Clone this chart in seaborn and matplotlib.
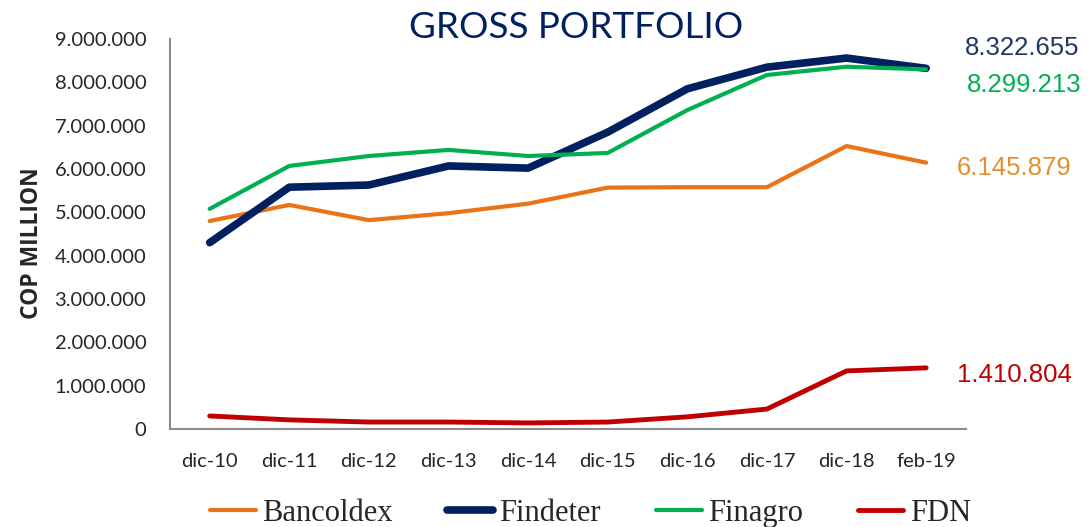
import matplotlib
matplotlib.use("Agg")
import matplotlib.pyplot as plt
import seaborn as sns
import pandas as pd
from matplotlib.ticker import FuncFormatter, MultipleLocator

periods = ["dic-10", "dic-11", "dic-12", "dic-13", "dic-14", "dic-15",
           "dic-16", "dic-17", "dic-18", "feb-19"]
bancoldex = [4800000, 5170000, 4820000, 4980000, 5200000, 5570000,
             5580000, 5580000, 6530000, 6145879]
findeter = [4300000, 5580000, 5630000, 6070000, 6020000, 6850000,
            7850000, 8350000, 8560000, 8322655]
finagro = [5080000, 6070000, 6300000, 6440000, 6300000, 6370000,
           7360000, 8170000, 8360000, 8299213]
fdn = [300000, 210000, 160000, 160000, 140000, 160000,
       280000, 460000, 1340000, 1410804]
series_names = ["Bancoldex", "Findeter", "Finagro", "FDN"]
series_values = [bancoldex, findeter, finagro, fdn]
end_labels = ["6.145.879", "8.322.655", "8.299.213", "1.410.804"]

colors = {"Bancoldex": "#E97316", "Findeter": "#002060",
          "Finagro": "#00B050", "FDN": "#C00000"}
label_colors = {"Bancoldex": "#E0902E", "Findeter": "#1F3864",
                "Finagro": "#00B050", "FDN": "#C00000"}
widths = {"Bancoldex": 3.0, "Findeter": 5.5, "Finagro": 3.0, "FDN": 3.5}
label_offsets = {"Bancoldex": (22, -4), "Findeter": (28, 15),
                 "Finagro": (29, -11), "FDN": (22, -5)}

sns.set_theme(style="white")
plt.rcParams["font.family"] = ["Lato", "DejaVu Sans"]

fig = plt.figure(figsize=(10.89, 5.27), dpi=100)
ax = fig.add_axes([0.156, 0.186, 0.731, 0.740])

for name, vals in zip(series_names, series_values):
    df = pd.DataFrame({"period": periods, "value": vals})
    sns.lineplot(data=df, x="period", y="value", ax=ax, color=colors[name],
                 linewidth=widths[name], sort=False, label=name,
                 solid_capstyle="round", solid_joinstyle="round")

for name, vals, lab in zip(series_names, series_values, end_labels):
    ax.annotate(lab, xy=(len(periods) - 1, vals[-1]),
                xytext=label_offsets[name], textcoords="offset points",
                ha="left", va="center", fontsize=18.5,
                color=label_colors[name], family="Liberation Sans",
                annotation_clip=False)

ax.set_xlim(-0.5, len(periods) - 0.5)
ax.set_ylim(0, 9000000)
ax.yaxis.set_major_locator(MultipleLocator(1000000))
ax.yaxis.set_major_formatter(FuncFormatter(
    lambda v, p: "0" if v == 0 else f"{int(v):,}".replace(",", ".")))
ax.tick_params(axis="both", length=0, labelsize=14.5)
ax.tick_params(axis="y", pad=17)
ax.tick_params(axis="x", pad=17)
ax.set_xlabel("")
ax.set_ylabel("COP MILLION", fontsize=16.5, fontweight="bold",
              family="Open Sans")
ax.yaxis.set_label_coords(-0.158, 0.477)
for s in ["top", "right"]:
    ax.spines[s].set_visible(False)
for s in ["left", "bottom"]:
    ax.spines[s].set_color("#8C8C8C")
    ax.spines[s].set_linewidth(1.5)

fig.text(0.529, 0.948, "GROSS PORTFOLIO", ha="center", va="center",
         fontsize=26.5, color="#002060", family="Lato")

h, l = ax.get_legend_handles_labels()
ax.get_legend().remove()
fig.legend(h, l, loc="center", bbox_to_anchor=(0.542, 0.026), ncol=4,
           frameon=False, prop={"family": "Liberation Serif", "size": 22},
           handlelength=1.5, handletextpad=0.2, columnspacing=1.8)

fig.savefig("out.png", dpi=100)
